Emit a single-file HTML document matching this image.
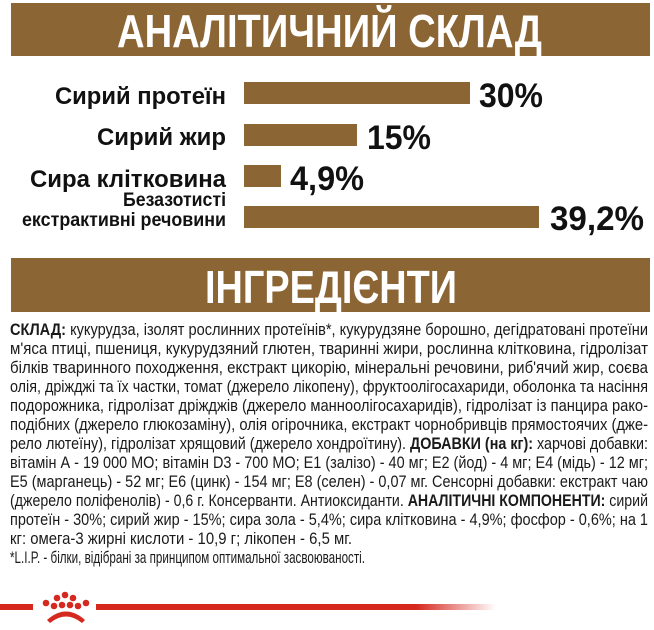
<!DOCTYPE html>
<html><head><meta charset="utf-8"><style>
html,body{margin:0;padding:0;background:#fff;width:654px;height:630px;overflow:hidden}
svg{display:block}
.t{font-family:"Liberation Sans",sans-serif;font-size:16.5px;fill:#1a1a1a}
.b{font-weight:bold}
.lbl{font-family:"Liberation Sans",sans-serif;font-weight:bold;fill:#111}
</style></head><body>
<svg width="654" height="630" viewBox="0 0 654 630" xmlns="http://www.w3.org/2000/svg">
<defs><linearGradient id="g" x1="0" x2="1"><stop offset="0" stop-color="#d5281f"/><stop offset="0.8" stop-color="#d5281f"/><stop offset="1" stop-color="#d5281f" stop-opacity="0"/></linearGradient></defs>
<rect x="11" y="3" width="639" height="53" fill="#8b6534"/>
<text x="117" y="47" class="lbl" style="fill:#fff;font-size:46px" textLength="425" lengthAdjust="spacingAndGlyphs">АНАЛІТИЧНИЙ СКЛАД</text>
<rect x="244" y="82" width="226" height="22" fill="#8b6534"/>
<rect x="244" y="124" width="113" height="22" fill="#8b6534"/>
<rect x="244" y="165" width="37" height="22" fill="#8b6534"/>
<rect x="244" y="206" width="295" height="22" fill="#8b6534"/>
<text x="55" y="104" class="lbl" style="font-size:24px" textLength="171" lengthAdjust="spacingAndGlyphs">Сирий протеїн</text>
<text x="97" y="145" class="lbl" style="font-size:24px" textLength="129" lengthAdjust="spacingAndGlyphs">Сирий жир</text>
<text x="30" y="187" class="lbl" style="font-size:24px" textLength="196" lengthAdjust="spacingAndGlyphs">Сира клітковина</text>
<text x="123" y="206" class="lbl" style="font-size:19px" textLength="103" lengthAdjust="spacingAndGlyphs">Безазотисті</text>
<text x="22" y="226" class="lbl" style="font-size:19px" textLength="204" lengthAdjust="spacingAndGlyphs">екстрактивні речовини</text>
<text x="479" y="107" class="lbl" style="font-size:34px" textLength="64" lengthAdjust="spacingAndGlyphs">30%</text>
<text x="367" y="149" class="lbl" style="font-size:34px" textLength="64" lengthAdjust="spacingAndGlyphs">15%</text>
<text x="290" y="190" class="lbl" style="font-size:34px" textLength="74" lengthAdjust="spacingAndGlyphs">4,9%</text>
<text x="550" y="230" class="lbl" style="font-size:34px" textLength="94" lengthAdjust="spacingAndGlyphs">39,2%</text>
<rect x="11" y="258" width="639" height="54" fill="#8b6534"/>
<text x="205" y="303" class="lbl" style="fill:#fff;font-size:46px" textLength="252" lengthAdjust="spacingAndGlyphs">ІНГРЕДІЄНТИ</text>
<g class="t">
<text x="10" y="335" textLength="638" lengthAdjust="spacingAndGlyphs"><tspan class="b">СКЛАД:</tspan> кукурудза, ізолят рослинних протеїнів*, кукурудзяне борошно, дегідратовані протеїни</text>
<text x="10" y="354" textLength="638" lengthAdjust="spacingAndGlyphs">м'яса птиці, пшениця, кукурудзяний глютен, тваринні жири, рослинна клітковина, гідролізат</text>
<text x="10" y="373" textLength="638" lengthAdjust="spacingAndGlyphs">білків тваринного походження, екстракт цикорію, мінеральні речовини, риб'ячий жир, соєва</text>
<text x="10" y="392" textLength="638" lengthAdjust="spacingAndGlyphs">олія, дріжджі та їх частки, томат (джерело лікопену), фруктоолігосахариди, оболонка та насіння</text>
<text x="10" y="411" textLength="638" lengthAdjust="spacingAndGlyphs">подорожника, гідролізат дріжджів (джерело манноолігосахаридів), гідролізат із панцира рако-</text>
<text x="10" y="430" textLength="638" lengthAdjust="spacingAndGlyphs">подібних (джерело глюкозаміну), олія огірочника, екстракт чорнобривців прямостоячих (дже-</text>
<text x="10" y="449" textLength="638" lengthAdjust="spacingAndGlyphs">рело лютеїну), гідролізат хрящовий (джерело хондроїтину). <tspan class="b">ДОБАВКИ (на кг):</tspan> харчові добавки:</text>
<text x="10" y="468" textLength="638" lengthAdjust="spacingAndGlyphs">вітамін А - 19 000 МО; вітамін D3 - 700 МО; Е1 (залізо) - 40 мг; Е2 (йод) - 4 мг; Е4 (мідь) - 12 мг;</text>
<text x="10" y="487" textLength="638" lengthAdjust="spacingAndGlyphs">Е5 (марганець) - 52 мг; Е6 (цинк) - 154 мг; Е8 (селен) - 0,07 мг. Сенсорні добавки: екстракт чаю</text>
<text x="10" y="506" textLength="638" lengthAdjust="spacingAndGlyphs">(джерело поліфенолів) - 0,6 г. Консерванти. Антиоксиданти. <tspan class="b">АНАЛІТИЧНІ КОМПОНЕНТИ:</tspan> сирий</text>
<text x="10" y="525" textLength="638" lengthAdjust="spacingAndGlyphs">протеїн - 30%; сирий жир - 15%; сира зола - 5,4%; сира клітковина - 4,9%; фосфор - 0,6%; на 1</text>
<text x="10" y="544" textLength="342" lengthAdjust="spacingAndGlyphs">кг: омега-3 жирні кислоти - 10,9 г; лікопен - 6,5 мг.</text>
<text x="10" y="563" textLength="355" lengthAdjust="spacingAndGlyphs">*L.I.P. - білки, відібрані за принципом оптимальної засвоюваності.</text>
</g>
<rect x="0" y="604" width="33" height="6" fill="#d5281f"/>
<rect x="96" y="604" width="400" height="6" fill="url(#g)"/>
<g fill="#d5281f">
<circle cx="65" cy="595" r="3.3"/><circle cx="57" cy="598" r="3.3"/><circle cx="73" cy="598" r="3.3"/>
<circle cx="46" cy="603" r="3.3"/><circle cx="54" cy="606" r="3.3"/><circle cx="62" cy="605" r="3.3"/>
<circle cx="70" cy="605" r="3.3"/><circle cx="78" cy="606" r="3.3"/><circle cx="86" cy="603" r="3.3"/>
<path d="M47 620 Q66 603 85 620 L82 623 Q66 610 50 623 Z"/>
</g>
</svg>
</body></html>
